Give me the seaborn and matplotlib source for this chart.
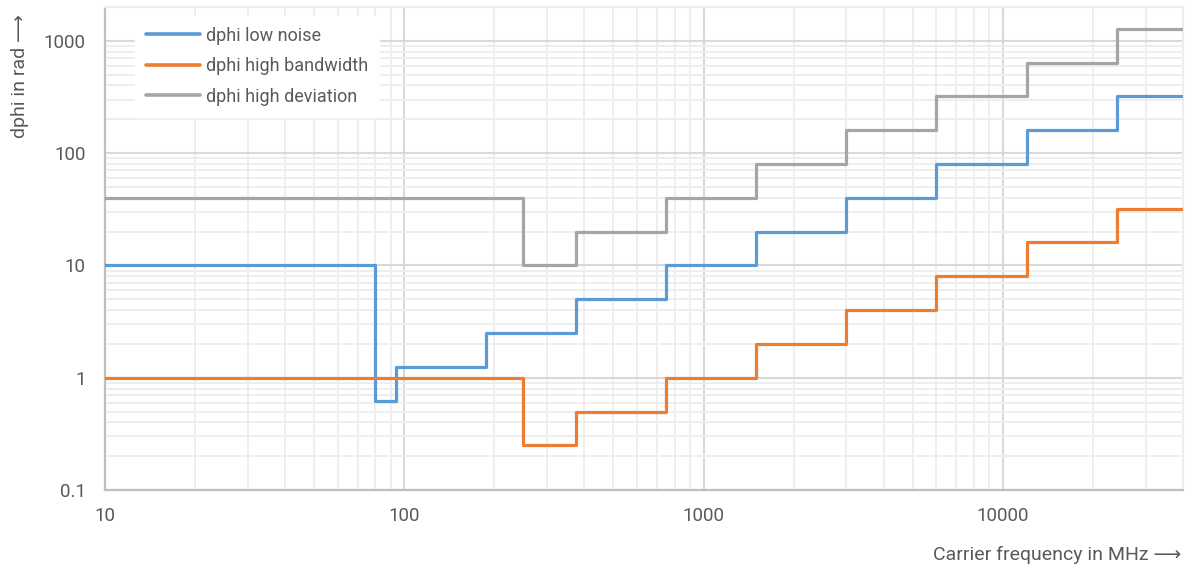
import matplotlib
matplotlib.use("Agg")
import matplotlib.pyplot as plt
import matplotlib.ticker as mticker
import pandas as pd
import seaborn as sns

# step curves: value holds from each frequency up to the next one
low_noise_freq = [10, 80, 93.75, 187.5, 375, 750, 1500, 3000, 6000, 12000, 24000, 40000]
low_noise_dphi = [10, 0.625, 1.25, 2.5, 5, 10, 20, 40, 80, 160, 320, 320]

high_bw_freq = [10, 250, 375, 750, 1500, 3000, 6000, 12000, 24000, 40000]
high_bw_dphi = [1, 0.25, 0.5, 1, 2, 4, 8, 16, 32, 32]

high_dev_freq = [10, 250, 375, 750, 1500, 3000, 6000, 12000, 24000, 40000]
high_dev_dphi = [40, 10, 20, 40, 80, 160, 320, 640, 1280, 1280]

series_names = ["dphi low noise", "dphi high bandwidth", "dphi high deviation"]
colors = ["#5B9BD5", "#ED7D31", "#A5A5A5"]

x_ticks = [10, 100, 1000, 10000]
y_ticks = [0.1, 1, 10, 100, 1000]

sns.set_theme(style="white")
plt.rcParams["font.family"] = ["Roboto", "DejaVu Sans"]

text_col = "#595959"

fig = plt.figure(figsize=(11.87, 5.70), dpi=100)
ax = fig.add_axes([105 / 1187, 1 - 490 / 570, 1078 / 1187, 483 / 570])

curves = [
    (low_noise_freq, low_noise_dphi),
    (high_bw_freq, high_bw_dphi),
    (high_dev_freq, high_dev_dphi),
]
for (f, d), name, c in zip(curves, series_names, colors):
    df = pd.DataFrame({"freq": f, "dphi": d})
    sns.lineplot(data=df, x="freq", y="dphi", ax=ax, color=c, linewidth=2.3,
                 drawstyle="steps-post", estimator=None, sort=False,
                 label=name, zorder=3)

ax.set_xscale("log")
ax.set_yscale("log")
ax.set_xlim(10, 40000)
ax.set_ylim(0.1, 2000)

ax.xaxis.set_major_locator(mticker.FixedLocator(x_ticks))
ax.yaxis.set_major_locator(mticker.FixedLocator(y_ticks))
ax.xaxis.set_major_formatter(mticker.FuncFormatter(lambda v, p: f"{v:g}"))
ax.yaxis.set_major_formatter(mticker.FuncFormatter(lambda v, p: f"{v:g}"))
ax.xaxis.set_minor_locator(mticker.LogLocator(base=10, subs=range(2, 10), numticks=20))
ax.yaxis.set_minor_locator(mticker.LogLocator(base=10, subs=range(2, 10), numticks=20))
ax.xaxis.set_minor_formatter(mticker.NullFormatter())
ax.yaxis.set_minor_formatter(mticker.NullFormatter())

ax.grid(which="major", color="#D9D9D9", linewidth=1.5)
ax.grid(which="minor", color="#EEEEEE", linewidth=1.4)
ax.set_axisbelow(True)

ax.tick_params(which="both", length=0, labelsize=13.5, colors=text_col)
ax.tick_params(axis="x", pad=12)
ax.tick_params(axis="y", pad=14)

for side in ["left", "bottom"]:
    ax.spines[side].set_color("#BFBFBF")
    ax.spines[side].set_linewidth(1.6)
for side in ["top", "right"]:
    ax.spines[side].set_color("#EEEEEE")
    ax.spines[side].set_linewidth(1.5)

ax.set_xlabel("")
ax.set_ylabel("")

leg = ax.legend(loc="upper left", bbox_to_anchor=(0.028, 0.982), borderaxespad=0,
                frameon=True, fontsize=13, handlelength=3.0, handletextpad=0.3,
                labelspacing=0.7, borderpad=0.6)
leg.get_frame().set_facecolor("white")
leg.get_frame().set_edgecolor("white")
leg.get_frame().set_alpha(1)
for t in leg.get_texts():
    t.set_color(text_col)
for line in leg.get_lines():
    line.set_linewidth(2.6)

fig.text(20 / 1187, 1 - 14 / 570, "dphi in rad \u27f6", rotation=90,
         ha="center", va="top", fontsize=14, color=text_col)
fig.text(1181 / 1187, 1 - 555 / 570, "Carrier frequency in MHz \u27f6",
         ha="right", va="center", fontsize=14, color=text_col)

fig.savefig("out.png", dpi=100)
